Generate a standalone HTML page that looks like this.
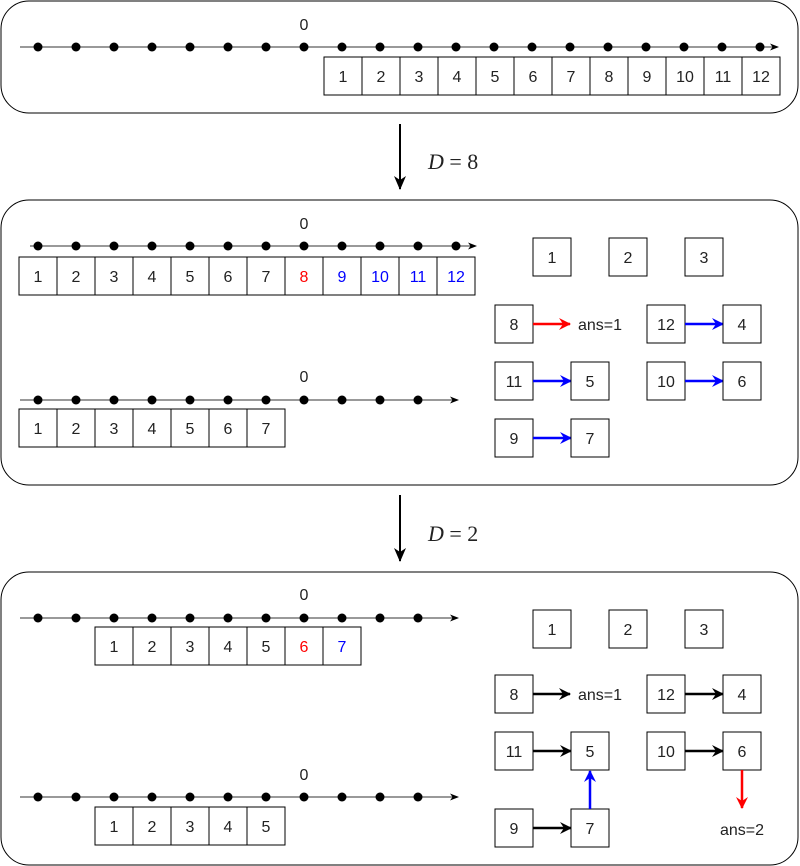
<!DOCTYPE html>
<html><head><meta charset="utf-8"><style>
html,body{margin:0;padding:0;background:#fff;}
svg{display:block;}
text{font-family:"Liberation Sans",sans-serif;font-size:16px;fill:#222;text-anchor:middle;}
.m{font-family:"Liberation Serif",serif;font-size:22px;text-anchor:start;}
rect.b{fill:#fff;stroke:#000;stroke-width:1;}
</style></head><body>
<svg width="800" height="866" viewBox="0 0 800 866" xmlns="http://www.w3.org/2000/svg">
<defs>
<marker id="ak" markerWidth="14" markerHeight="14" refX="13" refY="7" orient="auto" markerUnits="userSpaceOnUse"><path d="M0,1 L14,7 L0,13 L4,7 z" fill="#000"/></marker>
<marker id="as" markerWidth="9" markerHeight="9" refX="8" refY="4.5" orient="auto" markerUnits="userSpaceOnUse"><path d="M0,1 L9,4.5 L0,8 L2.5,4.5 z" fill="#000"/></marker>
<marker id="ar" markerWidth="12" markerHeight="12" refX="11" refY="6" orient="auto" markerUnits="userSpaceOnUse"><path d="M0,0 L12,6 L0,12 L4,6 z" fill="#f00"/></marker>
<marker id="ab" markerWidth="12" markerHeight="12" refX="11" refY="6" orient="auto" markerUnits="userSpaceOnUse"><path d="M0,0 L12,6 L0,12 L4,6 z" fill="#00f"/></marker>
<marker id="ak2" markerWidth="12" markerHeight="12" refX="11" refY="6" orient="auto" markerUnits="userSpaceOnUse"><path d="M0,0 L12,6 L0,12 L4,6 z" fill="#000"/></marker>
</defs>

<!-- Panel 1 -->
<rect x="1" y="1" width="797" height="112" rx="28" fill="#fff" stroke="#000"/>
<line x1="20" y1="47" x2="778" y2="47" stroke="#333" marker-end="url(#as)"/>
<g fill="#000">
<circle cx="38" cy="47" r="4.5"/><circle cx="76" cy="47" r="4.5"/><circle cx="114" cy="47" r="4.5"/><circle cx="152" cy="47" r="4.5"/><circle cx="190" cy="47" r="4.5"/><circle cx="228" cy="47" r="4.5"/><circle cx="266" cy="47" r="4.5"/><circle cx="304" cy="47" r="4.5"/><circle cx="342" cy="47" r="4.5"/><circle cx="380" cy="47" r="4.5"/><circle cx="418" cy="47" r="4.5"/><circle cx="456" cy="47" r="4.5"/><circle cx="494" cy="47" r="4.5"/><circle cx="532" cy="47" r="4.5"/><circle cx="570" cy="47" r="4.5"/><circle cx="608" cy="47" r="4.5"/><circle cx="646" cy="47" r="4.5"/><circle cx="684" cy="47" r="4.5"/><circle cx="722" cy="47" r="4.5"/><circle cx="760" cy="47" r="4.5"/>
</g>
<text x="304" y="30">0</text>
<g>
<rect class="b" x="324" y="57" width="38" height="38"/><text x="343" y="82">1</text>
<rect class="b" x="362" y="57" width="38" height="38"/><text x="381" y="82">2</text>
<rect class="b" x="400" y="57" width="38" height="38"/><text x="419" y="82">3</text>
<rect class="b" x="438" y="57" width="38" height="38"/><text x="457" y="82">4</text>
<rect class="b" x="476" y="57" width="38" height="38"/><text x="495" y="82">5</text>
<rect class="b" x="514" y="57" width="38" height="38"/><text x="533" y="82">6</text>
<rect class="b" x="552" y="57" width="38" height="38"/><text x="571" y="82">7</text>
<rect class="b" x="590" y="57" width="38" height="38"/><text x="609" y="82">8</text>
<rect class="b" x="628" y="57" width="38" height="38"/><text x="647" y="82">9</text>
<rect class="b" x="666" y="57" width="38" height="38"/><text x="685" y="82">10</text>
<rect class="b" x="704" y="57" width="38" height="38"/><text x="723" y="82">11</text>
<rect class="b" x="742" y="57" width="38" height="38"/><text x="761" y="82">12</text>
</g>

<!-- arrow D=8 -->
<line x1="400" y1="124" x2="400" y2="189" stroke="#000" stroke-width="2" marker-end="url(#ak)"/>
<text class="m" x="428" y="169"><tspan font-style="italic">D</tspan> = 8</text>

<!-- Panel 2 -->
<rect x="1" y="200" width="797" height="285" rx="28" fill="#fff" stroke="#000"/>
<line x1="30" y1="246" x2="476" y2="246" stroke="#333" marker-end="url(#as)"/>
<g fill="#000">
<circle cx="38" cy="246" r="4.5"/><circle cx="76" cy="246" r="4.5"/><circle cx="114" cy="246" r="4.5"/><circle cx="152" cy="246" r="4.5"/><circle cx="190" cy="246" r="4.5"/><circle cx="228" cy="246" r="4.5"/><circle cx="266" cy="246" r="4.5"/><circle cx="304" cy="246" r="4.5"/><circle cx="342" cy="246" r="4.5"/><circle cx="380" cy="246" r="4.5"/><circle cx="418" cy="246" r="4.5"/><circle cx="456" cy="246" r="4.5"/>
</g>
<text x="304" y="229">0</text>
<rect class="b" x="19" y="257" width="38" height="38"/><text x="38" y="282">1</text>
<rect class="b" x="57" y="257" width="38" height="38"/><text x="76" y="282">2</text>
<rect class="b" x="95" y="257" width="38" height="38"/><text x="114" y="282">3</text>
<rect class="b" x="133" y="257" width="38" height="38"/><text x="152" y="282">4</text>
<rect class="b" x="171" y="257" width="38" height="38"/><text x="190" y="282">5</text>
<rect class="b" x="209" y="257" width="38" height="38"/><text x="228" y="282">6</text>
<rect class="b" x="247" y="257" width="38" height="38"/><text x="266" y="282">7</text>
<rect class="b" x="285" y="257" width="38" height="38"/><text x="304" y="282" style="fill:#f00">8</text>
<rect class="b" x="323" y="257" width="38" height="38"/><text x="342" y="282" style="fill:#00f">9</text>
<rect class="b" x="361" y="257" width="38" height="38"/><text x="380" y="282" style="fill:#00f">10</text>
<rect class="b" x="399" y="257" width="38" height="38"/><text x="418" y="282" style="fill:#00f">11</text>
<rect class="b" x="437" y="257" width="38" height="38"/><text x="456" y="282" style="fill:#00f">12</text>

<line x1="20" y1="400" x2="458" y2="400" stroke="#333" marker-end="url(#as)"/>
<g fill="#000">
<circle cx="38" cy="400" r="4.5"/><circle cx="76" cy="400" r="4.5"/><circle cx="114" cy="400" r="4.5"/><circle cx="152" cy="400" r="4.5"/><circle cx="190" cy="400" r="4.5"/><circle cx="228" cy="400" r="4.5"/><circle cx="266" cy="400" r="4.5"/><circle cx="304" cy="400" r="4.5"/><circle cx="342" cy="400" r="4.5"/><circle cx="380" cy="400" r="4.5"/><circle cx="418" cy="400" r="4.5"/>
</g>
<text x="304" y="382">0</text>
<rect class="b" x="19" y="409" width="38" height="38"/><text x="38" y="434">1</text>
<rect class="b" x="57" y="409" width="38" height="38"/><text x="76" y="434">2</text>
<rect class="b" x="95" y="409" width="38" height="38"/><text x="114" y="434">3</text>
<rect class="b" x="133" y="409" width="38" height="38"/><text x="152" y="434">4</text>
<rect class="b" x="171" y="409" width="38" height="38"/><text x="190" y="434">5</text>
<rect class="b" x="209" y="409" width="38" height="38"/><text x="228" y="434">6</text>
<rect class="b" x="247" y="409" width="38" height="38"/><text x="266" y="434">7</text>

<rect class="b" x="533" y="238" width="38" height="38"/><text x="552" y="263">1</text>
<rect class="b" x="609" y="238" width="38" height="38"/><text x="628" y="263">2</text>
<rect class="b" x="685" y="238" width="38" height="38"/><text x="704" y="263">3</text>

<rect class="b" x="495" y="305" width="38" height="38"/><text x="514" y="330">8</text>
<line x1="533" y1="324" x2="570" y2="324" stroke="#f00" stroke-width="2.5" marker-end="url(#ar)"/>
<text x="600" y="330">ans=1</text>
<rect class="b" x="647" y="305" width="38" height="38"/><text x="666" y="330">12</text>
<line x1="685" y1="324" x2="723" y2="324" stroke="#00f" stroke-width="2.5" marker-end="url(#ab)"/>
<rect class="b" x="723" y="305" width="38" height="38"/><text x="742" y="330">4</text>

<rect class="b" x="495" y="362" width="38" height="38"/><text x="514" y="387">11</text>
<line x1="533" y1="381" x2="571" y2="381" stroke="#00f" stroke-width="2.5" marker-end="url(#ab)"/>
<rect class="b" x="571" y="362" width="38" height="38"/><text x="590" y="387">5</text>
<rect class="b" x="647" y="362" width="38" height="38"/><text x="666" y="387">10</text>
<line x1="685" y1="381" x2="723" y2="381" stroke="#00f" stroke-width="2.5" marker-end="url(#ab)"/>
<rect class="b" x="723" y="362" width="38" height="38"/><text x="742" y="387">6</text>

<rect class="b" x="495" y="419" width="38" height="38"/><text x="514" y="444">9</text>
<line x1="533" y1="438" x2="571" y2="438" stroke="#00f" stroke-width="2.5" marker-end="url(#ab)"/>
<rect class="b" x="571" y="419" width="38" height="38"/><text x="590" y="444">7</text>

<!-- arrow D=2 -->
<line x1="400" y1="495" x2="400" y2="561" stroke="#000" stroke-width="2" marker-end="url(#ak)"/>
<text class="m" x="428" y="541"><tspan font-style="italic">D</tspan> = 2</text>

<!-- Panel 3 -->
<rect x="1" y="572" width="797" height="293" rx="28" fill="#fff" stroke="#000"/>
<line x1="20" y1="618" x2="458" y2="618" stroke="#333" marker-end="url(#as)"/>
<g fill="#000">
<circle cx="38" cy="618" r="4.5"/><circle cx="76" cy="618" r="4.5"/><circle cx="114" cy="618" r="4.5"/><circle cx="152" cy="618" r="4.5"/><circle cx="190" cy="618" r="4.5"/><circle cx="228" cy="618" r="4.5"/><circle cx="266" cy="618" r="4.5"/><circle cx="304" cy="618" r="4.5"/><circle cx="342" cy="618" r="4.5"/><circle cx="380" cy="618" r="4.5"/><circle cx="418" cy="618" r="4.5"/>
</g>
<text x="304" y="600">0</text>
<rect class="b" x="95" y="627" width="38" height="38"/><text x="114" y="652">1</text>
<rect class="b" x="133" y="627" width="38" height="38"/><text x="152" y="652">2</text>
<rect class="b" x="171" y="627" width="38" height="38"/><text x="190" y="652">3</text>
<rect class="b" x="209" y="627" width="38" height="38"/><text x="228" y="652">4</text>
<rect class="b" x="247" y="627" width="38" height="38"/><text x="266" y="652">5</text>
<rect class="b" x="285" y="627" width="38" height="38"/><text x="304" y="652" style="fill:#f00">6</text>
<rect class="b" x="323" y="627" width="38" height="38"/><text x="342" y="652" style="fill:#00f">7</text>

<line x1="20" y1="797" x2="458" y2="797" stroke="#333" marker-end="url(#as)"/>
<g fill="#000">
<circle cx="38" cy="797" r="4.5"/><circle cx="76" cy="797" r="4.5"/><circle cx="114" cy="797" r="4.5"/><circle cx="152" cy="797" r="4.5"/><circle cx="190" cy="797" r="4.5"/><circle cx="228" cy="797" r="4.5"/><circle cx="266" cy="797" r="4.5"/><circle cx="304" cy="797" r="4.5"/><circle cx="342" cy="797" r="4.5"/><circle cx="380" cy="797" r="4.5"/><circle cx="418" cy="797" r="4.5"/>
</g>
<text x="304" y="780">0</text>
<rect class="b" x="95" y="807" width="38" height="38"/><text x="114" y="832">1</text>
<rect class="b" x="133" y="807" width="38" height="38"/><text x="152" y="832">2</text>
<rect class="b" x="171" y="807" width="38" height="38"/><text x="190" y="832">3</text>
<rect class="b" x="209" y="807" width="38" height="38"/><text x="228" y="832">4</text>
<rect class="b" x="247" y="807" width="38" height="38"/><text x="266" y="832">5</text>

<rect class="b" x="533" y="610" width="38" height="38"/><text x="552" y="635">1</text>
<rect class="b" x="609" y="610" width="38" height="38"/><text x="628" y="635">2</text>
<rect class="b" x="685" y="610" width="38" height="38"/><text x="704" y="635">3</text>

<rect class="b" x="495" y="675" width="38" height="38"/><text x="514" y="700">8</text>
<line x1="533" y1="694" x2="570" y2="694" stroke="#000" stroke-width="2.5" marker-end="url(#ak2)"/>
<text x="600" y="700">ans=1</text>
<rect class="b" x="647" y="675" width="38" height="38"/><text x="666" y="700">12</text>
<line x1="685" y1="694" x2="723" y2="694" stroke="#000" stroke-width="2.5" marker-end="url(#ak2)"/>
<rect class="b" x="723" y="675" width="38" height="38"/><text x="742" y="700">4</text>

<rect class="b" x="495" y="732" width="38" height="38"/><text x="514" y="757">11</text>
<line x1="533" y1="751" x2="571" y2="751" stroke="#000" stroke-width="2.5" marker-end="url(#ak2)"/>
<rect class="b" x="571" y="732" width="38" height="38"/><text x="590" y="757">5</text>
<rect class="b" x="647" y="732" width="38" height="38"/><text x="666" y="757">10</text>
<line x1="685" y1="751" x2="723" y2="751" stroke="#000" stroke-width="2.5" marker-end="url(#ak2)"/>
<rect class="b" x="723" y="732" width="38" height="38"/><text x="742" y="757">6</text>
<line x1="742" y1="770" x2="742" y2="808" stroke="#f00" stroke-width="2.5" marker-end="url(#ar)"/>
<text x="742" y="835">ans=2</text>

<rect class="b" x="495" y="809" width="38" height="38"/><text x="514" y="834">9</text>
<line x1="533" y1="828" x2="571" y2="828" stroke="#000" stroke-width="2.5" marker-end="url(#ak2)"/>
<rect class="b" x="571" y="809" width="38" height="38"/><text x="590" y="834">7</text>
<line x1="590" y1="809" x2="590" y2="771" stroke="#00f" stroke-width="2.5" marker-end="url(#ab)"/>
</svg>
</body></html>
